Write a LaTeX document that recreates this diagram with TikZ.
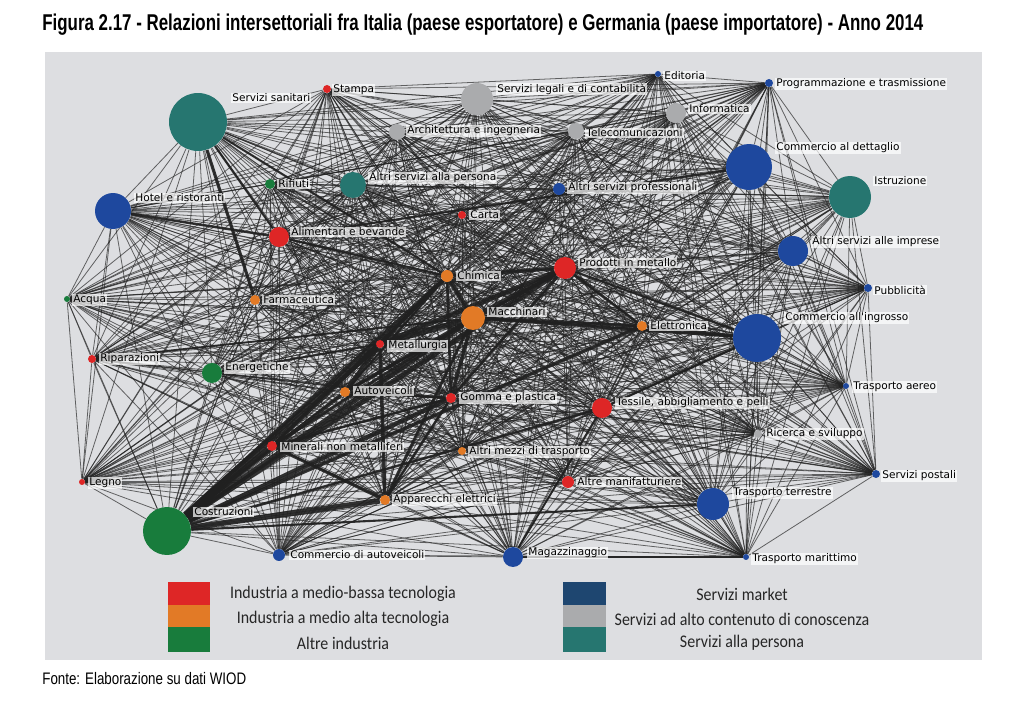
\documentclass[tikz,border=0pt]{standalone}
\usepackage{fontspec}
\setmainfont{Liberation Sans}
\newfontfamily\titlefont[FakeStretch=0.74]{Liberation Sans}
\newfontfamily\fontefont[FakeStretch=0.8]{Liberation Sans}
\newfontfamily\lblfont{DejaVu Sans}
\newfontfamily\legfont[FakeStretch=0.9]{Carlito}
\usetikzlibrary{positioning}

\definecolor{panelgray}{RGB}{221,222,225}
\definecolor{secred}{RGB}{222,38,38}
\definecolor{secorange}{RGB}{226,122,38}
\definecolor{secgreen}{RGB}{24,124,60}
\definecolor{secblue}{RGB}{30,72,158}
\definecolor{secgray}{RGB}{170,171,173}
\definecolor{secteal}{RGB}{38,118,112}
\definecolor{legblue}{RGB}{30,70,112}
\definecolor{linkgray}{RGB}{35,35,35}

\pgfdeclarelayer{bg}
\pgfdeclarelayer{edges}
\pgfsetlayers{bg,edges,main}

\tikzset{
  sec/.style={circle,inner sep=0pt,fill=#1},
  rad/.style={minimum size=#1*0.04cm},
  lbl/.style={font=\lblfont\fontsize{6}{7}\selectfont,anchor=west,fill=white,
    fill opacity=0.7,text opacity=1,inner sep=0.6pt},
  link/.style={draw=linkgray,line width=0.45pt,opacity=0.68},
  heavy/.style={draw=linkgray!90!black,opacity=0.9},
  legtxt/.style={font=\legfont\fontsize{10.1}{11}\selectfont,text=black!85}
}

\def\sectors{sanit,stampa,legali,edit,progr,inform,archit,telec,dettag,istruz,persona,rifiuti,hotel,profess,carta,alim,imprese,chim,prodmet,pubbl,acqua,farma,macch,elettr,ingross,metall,ripar,energ,autov,gomma,tessile,aereo,ricerca,minerali,mezzi,postali,legno,manif,terrest,appar,costr,autocomm,magazz,maritt}

\begin{document}
\begin{tikzpicture}[x=0.02cm,y=-0.02cm]
  \useasboundingbox (0,0) rectangle (1024,705);
  \begin{pgfonlayer}{bg}
    \fill[panelgray] (45,52) rectangle (982,660);
  \end{pgfonlayer}

  % title and source
  \node[anchor=west,inner sep=0pt] (title) at (42,25)
    {\titlefont\fontsize{13}{15}\selectfont\bfseries Figura 2.17 - Relazioni intersettoriali fra Italia (paese esportatore) e Germania (paese importatore) - Anno 2014};
  \node[anchor=west,inner sep=0pt] (fonte) at (42,679)
    {\fontefont\fontsize{9.5}{10}\selectfont Fonte: Elaborazione su dati WIOD};

  % sectors
  \node[sec=secteal,rad=29] (sanit) at (198,122) {};
  \node[sec=secred,rad=4] (stampa) at (327,89) {};
  \node[sec=secgray,rad=16] (legali) at (477,99) {};
  \node[sec=secblue,rad=3] (edit) at (658,74) {};
  \node[sec=secblue,rad=4] (progr) at (769,83) {};
  \node[sec=secgray,rad=10] (inform) at (676,113) {};
  \node[sec=secgray,rad=8] (archit) at (397,132) {};
  \node[sec=secgray,rad=8] (telec) at (576,131) {};
  \node[sec=secblue,rad=23] (dettag) at (749,167) {};
  \node[sec=secteal,rad=21] (istruz) at (850,197) {};
  \node[sec=secteal,rad=13] (persona) at (353,185) {};
  \node[sec=secgreen,rad=5] (rifiuti) at (270,184) {};
  \node[sec=secblue,rad=18] (hotel) at (113,211) {};
  \node[sec=secblue,rad=6] (profess) at (559,189) {};
  \node[sec=secred,rad=4] (carta) at (462,215) {};
  \node[sec=secred,rad=10] (alim) at (279,237) {};
  \node[sec=secblue,rad=15] (imprese) at (793,251) {};
  \node[sec=secorange,rad=6] (chim) at (447,276) {};
  \node[sec=secred,rad=11] (prodmet) at (565,268) {};
  \node[sec=secblue,rad=4] (pubbl) at (868,288) {};
  \node[sec=secgreen,rad=3] (acqua) at (67,299) {};
  \node[sec=secorange,rad=5] (farma) at (255,300) {};
  \node[sec=secorange,rad=12] (macch) at (473,318) {};
  \node[sec=secorange,rad=5] (elettr) at (642,326) {};
  \node[sec=secblue,rad=24] (ingross) at (757,338) {};
  \node[sec=secred,rad=4] (metall) at (380,344) {};
  \node[sec=secred,rad=4] (ripar) at (92,359) {};
  \node[sec=secgreen,rad=10] (energ) at (212,373) {};
  \node[sec=secorange,rad=5] (autov) at (345,392) {};
  \node[sec=secred,rad=5] (gomma) at (451,398) {};
  \node[sec=secred,rad=10] (tessile) at (602,408) {};
  \node[sec=secblue,rad=3] (aereo) at (846,386) {};
  \node[sec=secgray,rad=4] (ricerca) at (758,434) {};
  \node[sec=secred,rad=5] (minerali) at (272,446) {};
  \node[sec=secorange,rad=4] (mezzi) at (462,451) {};
  \node[sec=secblue,rad=4] (postali) at (876,474) {};
  \node[sec=secred,rad=3] (legno) at (82,482) {};
  \node[sec=secred,rad=6] (manif) at (568,482) {};
  \node[sec=secblue,rad=16] (terrest) at (713,504) {};
  \node[sec=secorange,rad=5] (appar) at (385,500) {};
  \node[sec=secgreen,rad=24] (costr) at (167,531) {};
  \node[sec=secblue,rad=6] (autocomm) at (279,555) {};
  \node[sec=secblue,rad=10] (magazz) at (513,557) {};
  \node[sec=secblue,rad=3] (maritt) at (746,557) {};

  % labels
  \node[lbl] (sanit-l) at (231,98) {Servizi sanitari};
  \node[lbl] (stampa-l) at (332,90) {Stampa};
  \node[lbl] (legali-l) at (496,89) {Servizi legali e di contabilità};
  \node[lbl] (edit-l) at (663,76) {Editoria};
  \node[lbl] (progr-l) at (775,84) {Programmazione e trasmissione};
  \node[lbl] (inform-l) at (688,109) {Informatica};
  \node[lbl] (archit-l) at (406,131) {Architettura e ingegneria};
  \node[lbl] (telec-l) at (585,133) {Telecomunicazioni};
  \node[lbl] (dettag-l) at (775,148) {Commercio al dettaglio};
  \node[lbl] (istruz-l) at (873,181) {Istruzione};
  \node[lbl] (persona-l) at (368,178) {Altri servizi alla persona};
  \node[lbl] (rifiuti-l) at (277,184) {Rifiuti};
  \node[lbl] (hotel-l) at (134,198) {Hotel e ristoranti};
  \node[lbl] (profess-l) at (567,188) {Altri servizi professionali};
  \node[lbl] (carta-l) at (469,215) {Carta};
  \node[lbl] (alim-l) at (290,232) {Alimentari e bevande};
  \node[lbl] (imprese-l) at (811,242) {Altri servizi alle imprese};
  \node[lbl] (chim-l) at (456,276) {Chimica};
  \node[lbl] (prodmet-l) at (578,263) {Prodotti in metallo};
  \node[lbl] (pubbl-l) at (873,290) {Pubblicità};
  \node[lbl] (acqua-l) at (72,300) {Acqua};
  \node[lbl] (farma-l) at (262,300) {Farmaceutica};
  \node[lbl] (macch-l) at (487,312) {Macchinari};
  \node[lbl] (elettr-l) at (649,326) {Elettronica};
  \node[lbl] (ingross-l) at (784,318) {Commercio all'ingrosso};
  \node[lbl] (metall-l) at (387,346) {Metallurgia};
  \node[lbl] (ripar-l) at (99,359) {Riparazioni};
  \node[lbl] (energ-l) at (224,368) {Energetiche};
  \node[lbl] (autov-l) at (353,391) {Autoveicoli};
  \node[lbl] (gomma-l) at (459,398) {Gomma e plastica};
  \node[lbl] (tessile-l) at (615,403) {Tessile, abbigliamento e pelli};
  \node[lbl] (aereo-l) at (852,387) {Trasporto aereo};
  \node[lbl] (ricerca-l) at (765,434) {Ricerca e sviluppo};
  \node[lbl] (minerali-l) at (280,447) {Minerali non metalliferi};
  \node[lbl] (mezzi-l) at (468,452) {Altri mezzi di trasporto};
  \node[lbl] (postali-l) at (881,476) {Servizi postali};
  \node[lbl] (legno-l) at (88,483) {Legno};
  \node[lbl] (manif-l) at (576,482) {Altre manifatturiere};
  \node[lbl] (terrest-l) at (732,493) {Trasporto terrestre};
  \node[lbl] (appar-l) at (392,500) {Apparecchi elettrici};
  \node[lbl] (costr-l) at (193,512) {Costruzioni};
  \node[lbl] (autocomm-l) at (289,555) {Commercio di autoveicoli};
  \node[lbl] (magazz-l) at (527,553) {Magazzinaggio};
  \node[lbl] (maritt-l) at (751,559) {Trasporto marittimo};

  % links between all sectors, then the strongest ones
  \begin{pgfonlayer}{edges}
    \foreach \a [count=\i] in \sectors {
      \foreach \b [count=\j] in \sectors {
        \ifnum\j>\i \draw[link] (\a) -- (\b); \fi
      }
    }
    \foreach \a/\b/\w in {costr/metall/3.6,costr/macch/3,costr/prodmet/3,
        costr/minerali/3,costr/appar/3.2,costr/gomma/2.6,costr/autov/2.2,
        costr/chim/2,costr/elettr/2,costr/tessile/1.4,costr/terrest/1.2,
        macch/metall/3.2,macch/prodmet/3,macch/chim/2.6,macch/gomma/2,
        macch/elettr/2,macch/autov/2,metall/prodmet/2.6,metall/autov/2.6,
        metall/minerali/2,metall/appar/2,chim/prodmet/2,chim/gomma/1.5,
        minerali/appar/1.8,gomma/appar/1.5,sanit/farma/1.8,sanit/chim/1.2,
        sanit/alim/1.2,hotel/alim/1.4,ingross/elettr/1.6,ingross/tessile/1.3,
        ingross/macch/1.6,ingross/prodmet/1.2,dettag/alim/1.2,magazz/maritt/1.1,
        magazz/tessile/1.1,alim/chim/1.2,prodmet/elettr/1.5,metall/chim/1.8,
        autov/gomma/1.4,minerali/gomma/1.4,energ/metall/1.2,ripar/macch/1.1,
        chim/metall/1.6,prodmet/gomma/1.5,macch/minerali/1.6,macch/appar/1.6,
        chim/autov/1.2,prodmet/autov/1.4,chim/minerali/1.2}
      \draw[heavy,line width=\w pt] (\a) -- (\b);
  \end{pgfonlayer}

  % legend
  \fill[secred] (168,582) rectangle (210,605);
  \fill[secorange] (168,605) rectangle (210,627);
  \fill[secgreen] (168,627) rectangle (210,652);
  \fill[legblue] (563,582) rectangle (606,605);
  \fill[secgray] (563,605) rectangle (606,627);
  \fill[secteal] (563,627) rectangle (606,652);
  \node[legtxt] (leg1) at (343,594) {Industria a medio-bassa tecnologia};
  \node[legtxt] (leg2) at (343,619) {Industria a medio alta tecnologia};
  \node[legtxt] (leg3) at (343,643) {Altre industria};
  \node[legtxt] (leg4) at (742,594) {Servizi market};
  \node[legtxt] (leg5) at (742,619) {Servizi ad alto contenuto di conoscenza};
  \node[legtxt] (leg6) at (742,643) {Servizi alla persona};
\end{tikzpicture}
\end{document}
